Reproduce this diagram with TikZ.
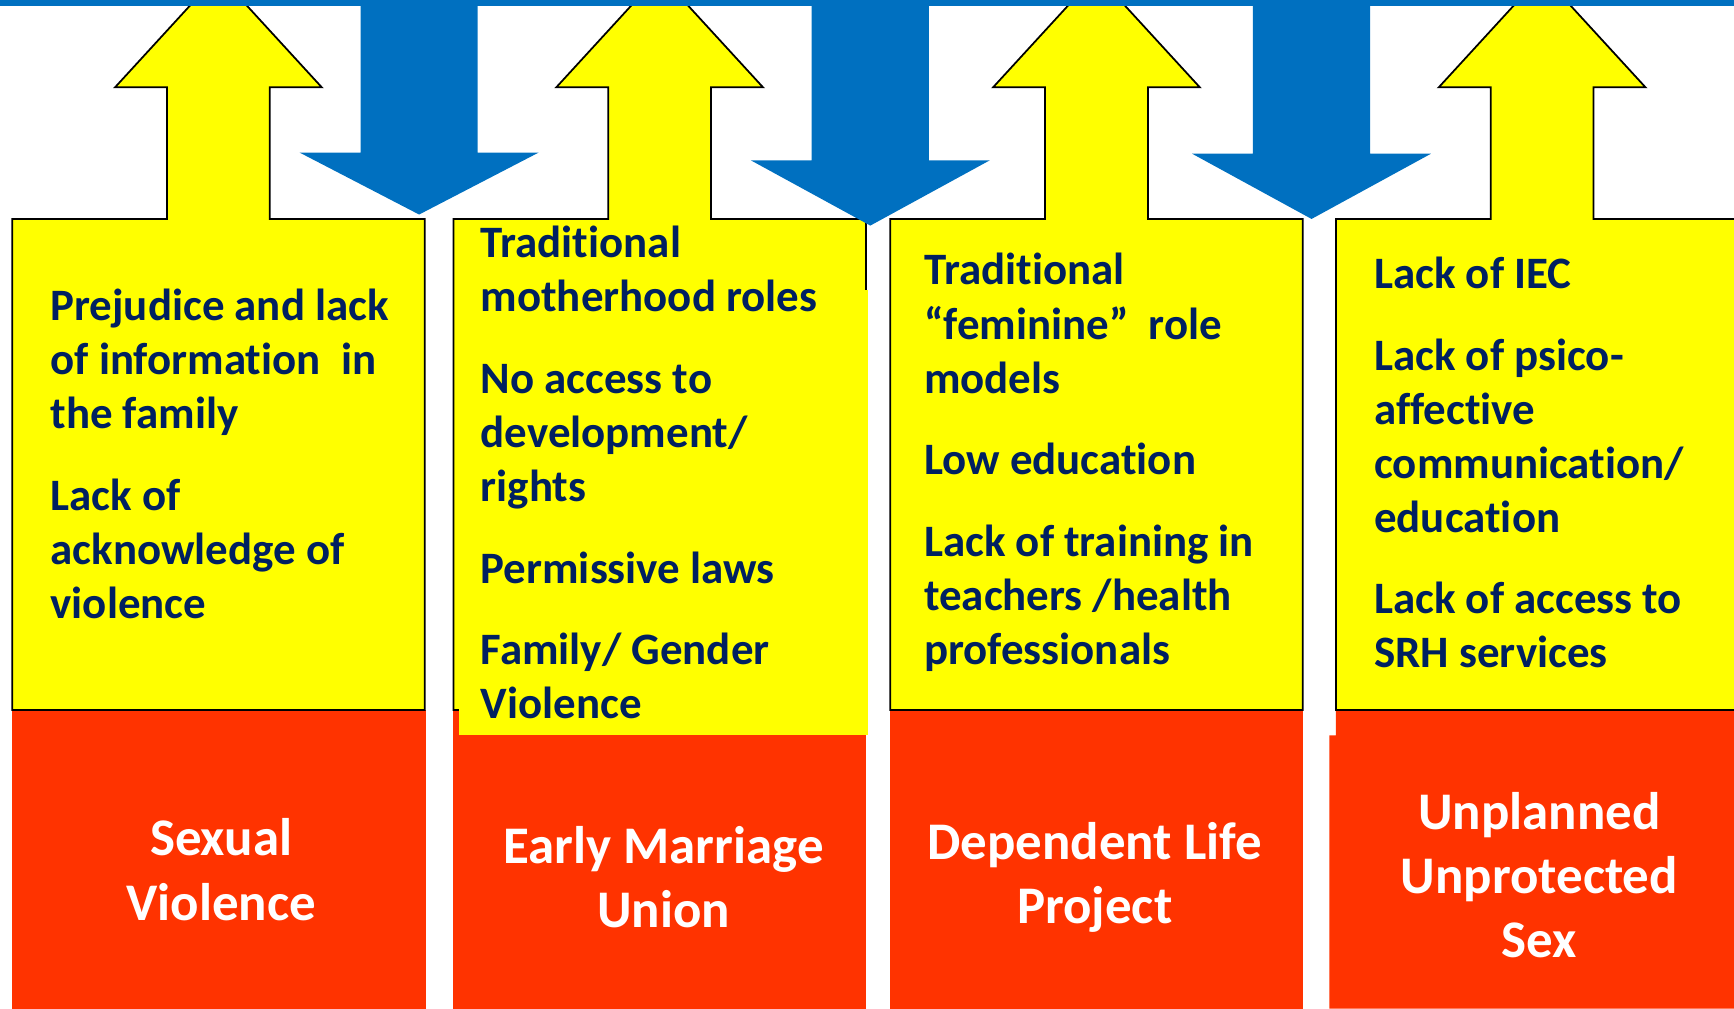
\documentclass[tikz,border=0pt]{standalone}
\usepackage{fontspec}
\setmainfont{Carlito}[Ligatures=NoCommon]
\definecolor{barblue}{HTML}{0070C0}
\definecolor{causeyellow}{HTML}{FFFF00}
\definecolor{effectred}{HTML}{FF3300}
\definecolor{navy}{HTML}{002060}

\begin{document}
\begin{tikzpicture}[
      x = 0.01cm, y = -0.01cm,
      cause/.style   = {fill=causeyellow, draw=black, line width=0.45pt, line join=miter},
      effect/.style  = {fill=effectred},
      push/.style    = {fill=barblue},
      % base of a multi-line node is its last line
      factors/.style = {anchor=base west, align=left, inner sep=0pt, text=navy,
                        font=\fontsize{11.55}{13.9}\selectfont\bfseries},
      outcome/.style = {anchor=base, align=center, inner sep=0pt, text=white,
                        font=\fontsize{13.6}{16.5}\selectfont\bfseries}
   ]
   \useasboundingbox (0,0) rectangle (1568,912);
   \clip (0,0) rectangle (1568,912);

   % red outcome blocks under the columns
   \fill[effect] (11,642) rectangle (385,912);
   \fill[effect] (410,642) rectangle (783,912);
   \fill[effect] (805,642) rectangle (1178,912);
   \fill[effect] (1208,642) -- (1568,642) -- (1568,912) -- (1202,912) -- (1202,665) -- (1208,665) -- cycle;

   % yellow columns, each one box with an up arrow on top
   \foreach \l [evaluate=\l as \c using \l+186.5] in {11,410,805,1208}
      \draw[cause] (\l,642) -- (\l,198) -- (\c-46.5,198) -- (\c-46.5,79) -- (\c-93.5,79)
         -- (\c,-23) -- (\c+93.5,79) -- (\c+46.5,79) -- (\c+46.5,198)
         -- (\l+373,198) -- (\l+373,642) -- cycle;
   % second column runs a bit lower, over its own border
   \fill[causeyellow] (415,262) rectangle (784.5,665);

   % blue arrows pushing down
   \foreach \c/\b/\t in {379/138/194, 787/145/204, 1186/139/198}
      \fill[push] (\c-53,0) -- (\c+53,0) -- (\c+53,\b) -- (\c+108,\b) -- (\c,\t)
         -- (\c-108,\b) -- (\c-53,\b) -- cycle;
   \fill[push] (0,0) rectangle (1568,5);

   % factors
   \node[factors] (f1) at (45,559) {Prejudice and lack\\of information~ in\\the family\\[0.25cm]
      Lack of\\acknowledge of\\violence};
   \node[factors] (f2) at (434,650) {Traditional\\motherhood roles\\[0.25cm]
      No access to\\development/\\rights\\[0.25cm]Permissive laws\\[0.25cm]
      Family/ Gender\\Violence};
   \node[factors] (f3) at (835,601) {Traditional\\“feminine”~ role\\models\\[0.25cm]
      Low education\\[0.25cm]Lack of training in\\teachers /health\\professionals};
   \node[factors] (f4) at (1242,604) {Lack of IEC\\[0.25cm]Lack of psico-\\affective\\
      communication/\\education\\[0.25cm]Lack of access to\\SRH services};

   % outcomes
   \node[outcome] (o1) at (200,832) {Sexual\\Violence};
   \node[outcome] (o2) at (600,839) {Early Marriage\\Union};
   \node[outcome] (o3) at (990,835) {Dependent Life\\Project};
   \node[outcome] (o4) at (1392,866) {Unplanned\\Unprotected\\Sex};
\end{tikzpicture}
\end{document}
